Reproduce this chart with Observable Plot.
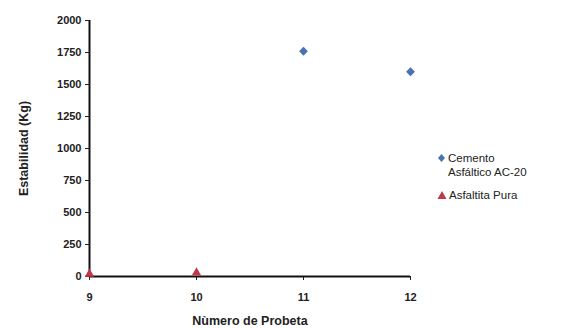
<!DOCTYPE html>
<html>
<head>
<meta charset="utf-8">
<script src="https://cdn.jsdelivr.net/npm/d3@7"></script>
<script src="https://cdn.jsdelivr.net/npm/@observablehq/plot@0.6"></script>
<style>
  body { margin: 0; background: #fff; }
  #chart { position: relative; width: 570px; height: 328px; font-family: "Liberation Sans", Arial, sans-serif; }
  #legend { position: absolute; left: 437px; top: 151px; font-size: 11.5px; color: #222; line-height: 14px; }
  #legend .item { display: flex; align-items: flex-start; margin-bottom: 9px; }
  #legend svg { flex: none; margin-top: 2px; margin-right: 2px; }
</style>
</head>
<body>
<div id="chart"></div>
<script>
// Probeta numbers and measured stability (Kg) for each binder
const probetas = [9, 10, 11, 12];
const cementoProbeta = [11, 12];
const cementoEstabilidad = [1760, 1600];
const asfaltitaProbeta = [9, 10];
const asfaltitaEstabilidad = [20, 30];
const yTicks = [0, 250, 500, 750, 1000, 1250, 1500, 1750, 2000];

const seriesNames = ["Cemento Asfáltico AC-20", "Asfaltita Pura"];
const seriesColors = ["#4a72b0", "#c0394a"];

const cemento = cementoProbeta.map((p, i) => ({probeta: p, estabilidad: cementoEstabilidad[i]}));
const asfaltita = asfaltitaProbeta.map((p, i) => ({probeta: p, estabilidad: asfaltitaEstabilidad[i]}));

const plain = d => String(d);

const chart = Plot.plot({
  width: 570,
  height: 328,
  marginLeft: 89,
  marginRight: 160,
  marginTop: 20,
  marginBottom: 52,
  style: {fontFamily: "'Liberation Sans', Arial, sans-serif", background: "#fff", color: "#222"},
  x: {domain: [9, 12]},
  y: {domain: [0, 2000]},
  marks: [
    Plot.axisX({ticks: probetas, tickSize: 4, tickPadding: 13, fontSize: 11, fontWeight: "bold",
      label: "Nùmero de Probeta", labelAnchor: "center", labelOffset: 48, labelArrow: "none", tickFormat: plain}),
    Plot.axisY({ticks: yTicks, tickSize: 4, tickPadding: 4, fontSize: 11, fontWeight: "bold",
      label: "Estabilidad (Kg)", labelAnchor: "center", labelOffset: 70, labelArrow: "none", tickFormat: plain}),
    Plot.ruleX([9], {stroke: "#111", strokeWidth: 2}),
    Plot.ruleY([0], {stroke: "#111", strokeWidth: 2}),
    Plot.dot(cemento, {x: "probeta", y: "estabilidad", symbol: "diamond2", fill: seriesColors[0], r: 4}),
    Plot.dot(asfaltita, {x: "probeta", y: "estabilidad", symbol: "triangle2", fill: seriesColors[1], r: 4.5})
  ]
});
// bold axis titles
chart.querySelectorAll("[aria-label='x-axis label'] text, [aria-label='y-axis label'] text").forEach(t => {
  t.setAttribute("font-weight", "bold");
  t.setAttribute("font-size", "12.5");
});
document.getElementById("chart").appendChild(chart);

// Legend
const legend = document.createElement("div");
legend.id = "legend";
const shapes = [
  '<svg width="9" height="10"><path d="M4.5 1 L8 5 L4.5 9 L1 5 Z" fill="' + seriesColors[0] + '"/></svg>',
  '<svg width="10" height="10"><path d="M5 1 L9.5 9 L0.5 9 Z" fill="' + seriesColors[1] + '"/></svg>'
];
const labels = ["Cemento<br>Asfáltico AC-20", seriesNames[1]];
labels.forEach((lab, i) => {
  const item = document.createElement("div");
  item.className = "item";
  item.innerHTML = shapes[i] + "<span>" + lab + "</span>";
  legend.appendChild(item);
});
document.getElementById("chart").appendChild(legend);
</script>
</body>
</html>
